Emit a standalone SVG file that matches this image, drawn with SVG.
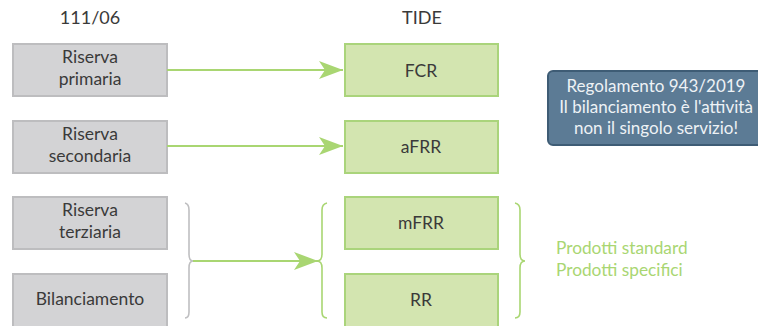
<svg xmlns="http://www.w3.org/2000/svg" width="758" height="326" viewBox="0 0 758 326">
<defs>
<marker id="ah" markerWidth="24" markerHeight="18" viewBox="0 0 24 18" refX="24" refY="9" orient="auto" markerUnits="userSpaceOnUse">
<path d="M0,0 L24,9 L0,18 L6,9 Z" fill="#a9d672"/>
</marker>
</defs>
<style>
text{font-family:"Lato","Open Sans","Liberation Sans",sans-serif;}
.old rect{fill:#d3d3d5;stroke:#bdbdbf;stroke-width:2;}
.new rect{fill:#d3e5b0;stroke:#aad47b;stroke-width:2;}
.lbl{font-size:17.5px;fill:#3a3a3a;text-anchor:middle;}
.hd{font-size:18px;fill:#3a3a3a;text-anchor:middle;}
.conn{stroke:#a9d672;stroke-width:2.2;fill:none;}
.brg{stroke:#bfbfc1;stroke-width:1.6;fill:none;}
.brn{stroke:#a9d672;stroke-width:1.6;fill:none;}
.note rect{fill:#5c7b95;stroke:#3e5c75;stroke-width:2;}
.note text{font-size:17px;fill:#eef2f5;text-anchor:middle;}
.prod{font-size:17.3px;fill:#a9d672;}
</style>
<text class="hd" x="90" y="24">111/06</text>
<text class="hd" x="422" y="24">TIDE</text>
<g id="riserva-primaria" class="old"><rect x="13" y="44" width="154" height="52"/><text class="lbl" x="90" y="63">Riserva</text><text class="lbl" x="90" y="85">primaria</text></g>
<g id="riserva-secondaria" class="old"><rect x="13" y="121" width="154" height="52"/><text class="lbl" x="90" y="140">Riserva</text><text class="lbl" x="90" y="162">secondaria</text></g>
<g id="riserva-terziaria" class="old"><rect x="13" y="197" width="154" height="52"/><text class="lbl" x="90" y="216">Riserva</text><text class="lbl" x="90" y="238">terziaria</text></g>
<g id="bilanciamento" class="old"><rect x="13" y="274" width="154" height="60"/><text class="lbl" x="90" y="305">Bilanciamento</text></g>
<g id="fcr" class="new"><rect x="345" y="44" width="153" height="52"/><text class="lbl" x="421" y="77">FCR</text></g>
<g id="afrr" class="new"><rect x="345" y="121" width="153" height="52"/><text class="lbl" x="421" y="153">aFRR</text></g>
<g id="mfrr" class="new"><rect x="345" y="197" width="153" height="52"/><text class="lbl" x="421" y="229">mFRR</text></g>
<g id="rr" class="new"><rect x="345" y="274" width="153" height="60"/><text class="lbl" x="421" y="306">RR</text></g>
<g id="nota" class="note"><rect x="548" y="71" width="220" height="74" rx="5"/><text x="656" y="92">Regolamento 943/2019</text><text x="656" y="113">Il bilanciamento è l'attività</text><text x="656" y="134">non il singolo servizio!</text></g>
<g id="prodotti"><text class="prod" x="556" y="254">Prodotti standard</text><text class="prod" x="556" y="276">Prodotti specifici</text></g>
<g id="connectors">
<path class="brg" d="M185,203 Q189,204 189,210 L189,254 Q189,261 193,261 Q189,261 189,268 L189,312 Q189,318 185,318"/>
<path class="brn" d="M327,203 Q322,204 322,210 L322,254 Q322,261 317,261 Q322,261 322,268 L322,312 Q322,318 327,318"/>
<path class="brn" d="M515,203 Q520,204 520,210 L520,254 Q520,261 525,261 Q520,261 520,268 L520,312 Q520,318 515,318"/>
<line class="conn" x1="167" y1="70" x2="343" y2="70" marker-end="url(#ah)"/>
<line class="conn" x1="167" y1="146" x2="343" y2="146" marker-end="url(#ah)"/>
<line class="conn" x1="193" y1="261" x2="318" y2="261" marker-end="url(#ah)"/>
</g>
</svg>
